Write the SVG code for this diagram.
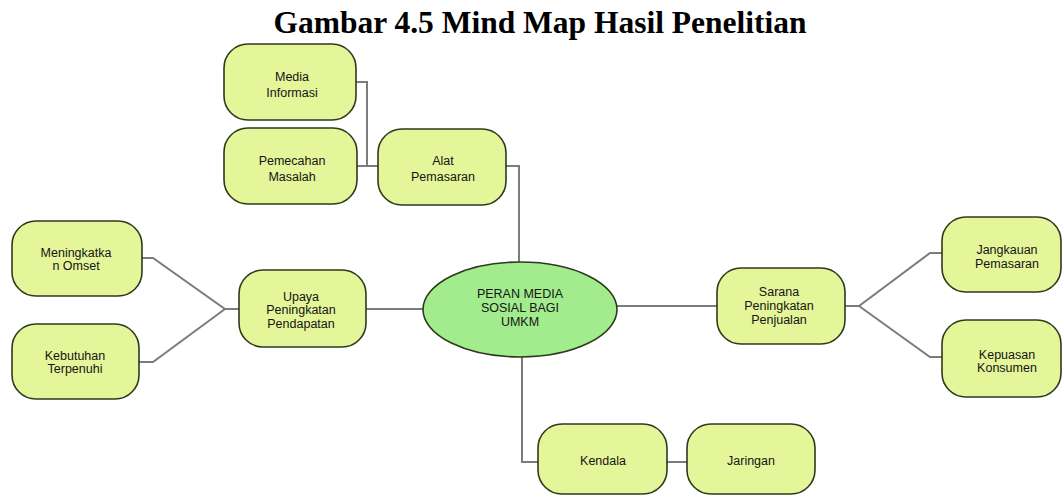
<svg xmlns="http://www.w3.org/2000/svg" width="1062" height="495" viewBox="0 0 1062 495">
<style>
.box{fill:#e5f59a;stroke:#2d3a1c;stroke-width:1.6}
.oval{fill:#a2ec8e;stroke:#2d3a1c;stroke-width:1.6}
.t{font-family:"Liberation Sans",Arial,sans-serif;font-size:12.5px;fill:#141414;text-anchor:middle}
.title{font-family:"Liberation Serif","Times New Roman",serif;font-size:31.5px;font-weight:bold;fill:#000;text-anchor:middle}
.c{fill:none;stroke:#7c7c7c;stroke-width:2}
</style>
<rect width="1062" height="495" fill="#fff"/>
<text class="title" x="540" y="33">Gambar 4.5 Mind Map Hasil Penelitian</text>
<g id="connectors">
<path class="c" d="M356,82 H367 V166"/>
<path class="c" d="M357,166 H378"/>
<path class="c" d="M506,166 H519 V262"/>
<path class="c" d="M366,309 H424"/>
<path class="c" d="M142,258 H153 L225,309 H239"/>
<path class="c" d="M139,362 H153 L225,309"/>
<path class="c" d="M616,306 H717"/>
<path class="c" d="M845,306 H859 L930,253 H942"/>
<path class="c" d="M859,306 L930,357 H942"/>
<path class="c" d="M522,357 V462 H538"/>
<path class="c" d="M667,462 H687"/>
</g>
<g id="media-informasi">
<rect class="box" x="224" y="44" width="132" height="76" rx="24" ry="24"/>
<text class="t" x="292" y="80.5">Media</text>
<text class="t" x="292" y="96.5">Informasi</text>
</g>
<g id="pemecahan-masalah">
<rect class="box" x="224" y="128" width="133" height="76" rx="24" ry="24"/>
<text class="t" x="292" y="164.5">Pemecahan</text>
<text class="t" x="292" y="180.5">Masalah</text>
</g>
<g id="alat-pemasaran">
<rect class="box" x="378" y="129" width="128" height="76" rx="24" ry="24"/>
<text class="t" x="443" y="164.5">Alat</text>
<text class="t" x="443" y="180.5">Pemasaran</text>
</g>
<g id="meningkatkan-omset">
<rect class="box" x="12" y="221" width="130" height="75" rx="24" ry="24"/>
<text class="t" x="76" y="256.5">Meningkatka</text>
<text class="t" x="76" y="269.5">n Omset</text>
</g>
<g id="kebutuhan-terpenuhi">
<rect class="box" x="12" y="324" width="127" height="75" rx="24" ry="24"/>
<text class="t" x="75" y="359.5">Kebutuhan</text>
<text class="t" x="75" y="372.5">Terpenuhi</text>
</g>
<g id="upaya">
<rect class="box" x="239" y="270" width="127" height="77" rx="24" ry="24"/>
<text class="t" x="301" y="300.5">Upaya</text>
<text class="t" x="301" y="314">Peningkatan</text>
<text class="t" x="301" y="327.5">Pendapatan</text>
</g>
<g id="peran-media">
<ellipse class="oval" cx="520" cy="309.5" rx="97" ry="47.5"/>
<text class="t" x="520" y="297.5">PERAN MEDIA</text>
<text class="t" x="520" y="311.5">SOSIAL BAGI</text>
<text class="t" x="520" y="325.5">UMKM</text>
</g>
<g id="sarana">
<rect class="box" x="717" y="268" width="128" height="76" rx="24" ry="24"/>
<text class="t" x="779" y="295.5">Sarana</text>
<text class="t" x="779" y="309.5">Peningkatan</text>
<text class="t" x="779" y="323.5">Penjualan</text>
</g>
<g id="jangkauan-pemasaran">
<rect class="box" x="942" y="217" width="119" height="75" rx="24" ry="24"/>
<text class="t" x="1007" y="253.5">Jangkauan</text>
<text class="t" x="1007" y="267.5">Pemasaran</text>
</g>
<g id="kepuasan-konsumen">
<rect class="box" x="942" y="320" width="119" height="77" rx="24" ry="24"/>
<text class="t" x="1007" y="358.5">Kepuasan</text>
<text class="t" x="1007" y="371.5">Konsumen</text>
</g>
<g id="kendala">
<rect class="box" x="538" y="424" width="129" height="70" rx="24" ry="24"/>
<text class="t" x="603" y="465">Kendala</text>
</g>
<g id="jaringan">
<rect class="box" x="687" y="424" width="128" height="70" rx="24" ry="24"/>
<text class="t" x="751" y="465">Jaringan</text>
</g>
</svg>
